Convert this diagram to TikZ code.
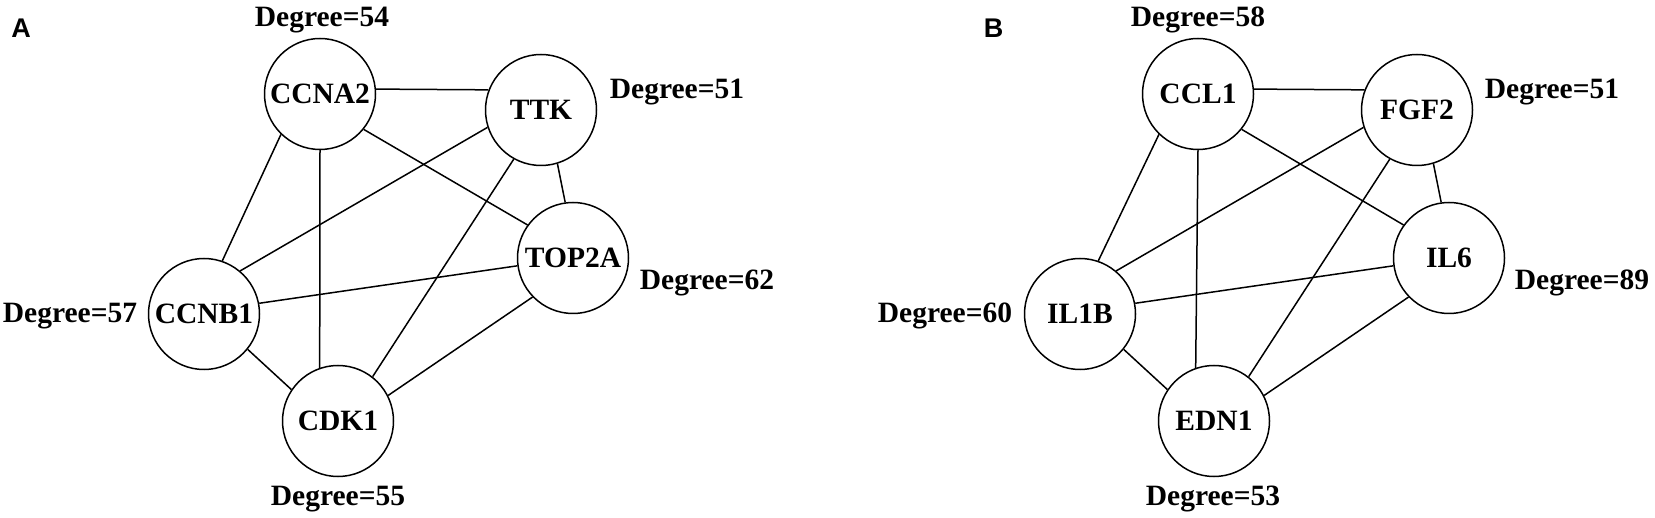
\documentclass[tikz,border=0pt]{standalone}
\usepackage{fontspec}
\setmainfont{Liberation Serif}
\newfontfamily\panelfont{Liberation Sans}
\begin{document}
\begin{tikzpicture}[x=1pt,y=-1pt,
  gene/.style={circle,draw,line width=1.5pt,minimum size=111pt,inner sep=0pt,
    font=\fontsize{29.5}{30}\selectfont\bfseries},
  deg/.style={anchor=base,inner sep=0pt,font=\fontsize{29.5}{30}\selectfont\bfseries},
  panel/.style={anchor=base,inner sep=0pt,font=\panelfont\fontsize{27}{28}\selectfont\bfseries},
  edge/.style={line width=1.5pt}]
\useasboundingbox (0,0) rectangle (1655,518);
% Panel A
\node[panel] (lA) at (21,38) {A};
\node[gene] (ccna2) at (320,94) {CCNA2};
\node[gene] (ttk) at (541,110) {TTK};
\node[gene] (top2a) at (573,258) {TOP2A};
\node[gene] (ccnb1) at (204,314) {CCNB1};
\node[gene] (cdk1) at (338,421) {CDK1};
\node[deg] (d54) at (322,27) {Degree=54};
\node[deg] (d51a) at (677,99) {Degree=51};
\node[deg] (d62) at (707,290) {Degree=62};
\node[deg] (d57) at (70,323) {Degree=57};
\node[deg] (d55) at (338,505) {Degree=55};
\draw[edge] (ccna2.5) -- (ttk.159);
\draw[edge] (ccna2.226) -- (ccnb1.71);
\draw[edge] (ccna2.270) -- (cdk1.109);
\draw[edge] (ccna2.-39) -- (top2a.144);
\draw[edge] (ttk.198) -- (ccnb1.50);
\draw[edge] (ttk.241) -- (cdk1.52);
\draw[edge] (ttk.-73) -- (top2a.98);
\draw[edge] (ccnb1.11) -- (top2a.188);
\draw[edge] (ccnb1.-39) -- (cdk1.146);
\draw[edge] (cdk1.27) -- (top2a.224);
% Panel B
\node[panel] (lB) at (993.5,38) {B};
\begin{scope}[xshift=876pt]
\node[gene] (ccl1) at (322,94) {CCL1};
\node[gene] (fgf2) at (541,110) {FGF2};
\node[gene] (il6) at (573,258) {IL6};
\node[gene] (il1b) at (204,314) {IL1B};
\node[gene] (edn1) at (338,421) {EDN1};
\node[deg] (d58) at (322,27) {Degree=58};
\node[deg] (d51b) at (676,99) {Degree=51};
\node[deg] (d89) at (706,290) {Degree=89};
\node[deg] (d60) at (69,323) {Degree=60};
\node[deg] (d53) at (337,505) {Degree=53};
\draw[edge] (ccl1.5) -- (fgf2.159);
\draw[edge] (ccl1.226) -- (il1b.71);
\draw[edge] (ccl1.270) -- (edn1.109);
\draw[edge] (ccl1.-39) -- (il6.144);
\draw[edge] (fgf2.198) -- (il1b.50);
\draw[edge] (fgf2.241) -- (edn1.52);
\draw[edge] (fgf2.-73) -- (il6.98);
\draw[edge] (il1b.11) -- (il6.188);
\draw[edge] (il1b.-39) -- (edn1.146);
\draw[edge] (edn1.27) -- (il6.224);
\end{scope}
\end{tikzpicture}
\end{document}
